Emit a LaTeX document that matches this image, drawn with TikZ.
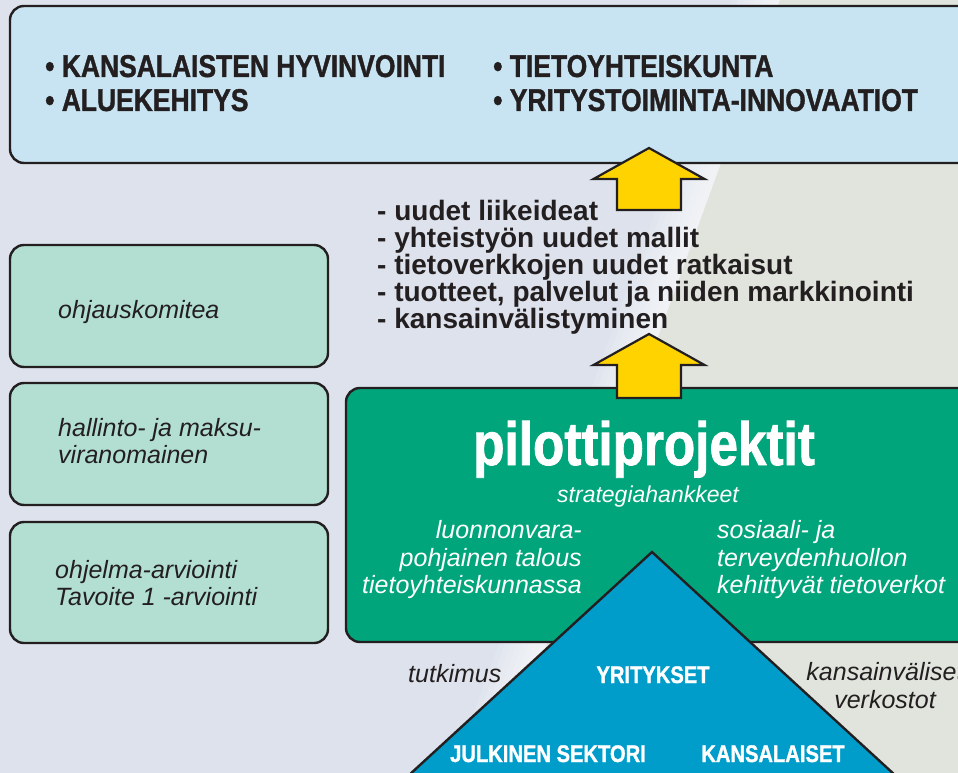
\documentclass[tikz,border=0pt]{standalone}
\usepackage{fontspec}
\setmainfont{Liberation Sans}
\newfontfamily\condfont[FakeStretch=0.84,FakeBold=1.2]{Liberation Sans}
\usetikzlibrary{positioning}
\definecolor{bgblue}{HTML}{DDE2EC}
\definecolor{bggreen}{HTML}{E0E4DD}
\definecolor{topblue}{HTML}{C8E4F2}
\definecolor{mint}{HTML}{B2DFD1}
\definecolor{pilot}{HTML}{00A57B}
\definecolor{pyramid}{HTML}{009DCB}
\definecolor{gold}{HTML}{FFD300}
\definecolor{ink}{HTML}{231F20}
\tikzset{
  box/.style={draw=ink,line width=2.4pt,rounded corners=14pt},
  yarrow/.style={draw=ink,line width=2.2pt,fill=gold,line join=miter},
  goal/.style={font=\condfont\bfseries\fontsize{31.5}{34}\selectfont,text=ink,inner sep=0pt,anchor=base west},
  item/.style={font=\bfseries\fontsize{28}{30}\selectfont,text=ink,inner sep=0pt,anchor=base west},
  note/.style={font=\itshape\fontsize{25}{27}\selectfont,text=ink,inner sep=0pt,anchor=base west},
  wnote/.style={note,text=white},
  tlabel/.style={font=\condfont\bfseries\fontsize{24}{26}\selectfont,text=white,inner sep=0pt,anchor=base}
}
% block arrow: centre x, tip y, bottom y
\def\yarrow#1#2#3{
  \draw[yarrow] (#1,#2) -- ++(55.5,31) -- ++(-23.5,0) -- (#1+32,#3)
    -- (#1-32,#3) -- (#1-32,#2+31) -- ++(-23.5,0) -- cycle;
}
\begin{document}
\begin{tikzpicture}[x=1pt,y=-1pt]
\clip (0,0) rectangle (958,773);
% background
\fill[bgblue] (0,0) rectangle (958,773);
\fill[bggreen] (780,0) -- (958,0) -- (958,773) -- (500,773) -- cycle;
\foreach \i in {1,...,8}
  \fill[white,opacity=0.12] (780-6*\i,0) -- (780,0) -- (500,773) -- (500-6*\i,773) -- cycle;
% boxes
\draw[box,fill=topblue] (10,6) rectangle (990,163);
\draw[box,fill=mint] (10,245) rectangle (328,367);
\draw[box,fill=mint] (10,383) rectangle (328,505);
\draw[box,fill=mint] (10,522) rectangle (328,643);
\draw[box,fill=pilot] (346,388) rectangle (990,642);
% pyramid
\coordinate (apex) at (652,552);
\coordinate (bl) at (408,776);
\coordinate (br) at (896,776);
\draw[draw=ink,line width=2.4pt,fill=pyramid,line join=miter] (apex) -- (br) -- (bl) -- cycle;
% arrows
\yarrow{649}{148}{210}
\yarrow{649}{334}{398}
% goals
\node[goal] (hyv) at (45,77) {• KANSALAISTEN HYVINVOINTI};
\node[goal] (alue) at (45,111) {• ALUEKEHITYS};
\node[goal] (tieto) at (493,77) {• TIETOYHTEISKUNTA};
\node[goal] (yrit) at (493,111) {• YRITYSTOIMINTA-INNOVAATIOT};
% results
\foreach \t [count=\i] in {uudet liikeideat, yhteistyön uudet mallit,
    tietoverkkojen uudet ratkaisut, {tuotteet, palvelut ja niiden markkinointi},
    kansainvälistyminen}
  \node[item] (item\i) at (377,193+27*\i) {- \t};
% organisation
\node[note] (ohj) at (58,318) {ohjauskomitea};
\node[note] (hal) at (58,436) {hallinto- ja maksu-};
\node[note] (vir) at (58,463) {viranomainen};
\node[note] (arv) at (55,578) {ohjelma-arviointi};
\node[note] (tav) at (55,605) {Tavoite 1 -arviointi};
% pilot projects
\node[font=\condfont\bfseries\fontsize{61}{64}\selectfont,text=white,inner sep=0pt,anchor=base]
  (pilot) at (644,465) {pilottiprojektit};
\node[wnote,font=\itshape\fontsize{23}{26}\selectfont,anchor=base] (strat) at (648,502) {strategiahankkeet};
\node[wnote,anchor=base east] (luo1) at (582,538) {luonnonvara-};
\node[wnote,anchor=base east] (luo2) at (582,566) {pohjainen talous};
\node[wnote,anchor=base east] (luo3) at (582,593) {tietoyhteiskunnassa};
\node[wnote] (sos1) at (717,538) {sosiaali- ja};
\node[wnote] (sos2) at (717,566) {terveydenhuollon};
\node[wnote] (sos3) at (717,593) {kehittyvät tietoverkot};
% pyramid labels
\node[tlabel] (yri) at (653,683) {YRITYKSET};
\node[tlabel] (jul) at (548,762) {JULKINEN SEKTORI};
\node[tlabel] (kan) at (773,762) {KANSALAISET};
\node[note] (tut) at (408,682) {tutkimus};
\node[note,anchor=base] (int1) at (885,680) {kansainväliset};
\node[note,anchor=base] (int2) at (885,708) {verkostot};
\end{tikzpicture}
\end{document}
